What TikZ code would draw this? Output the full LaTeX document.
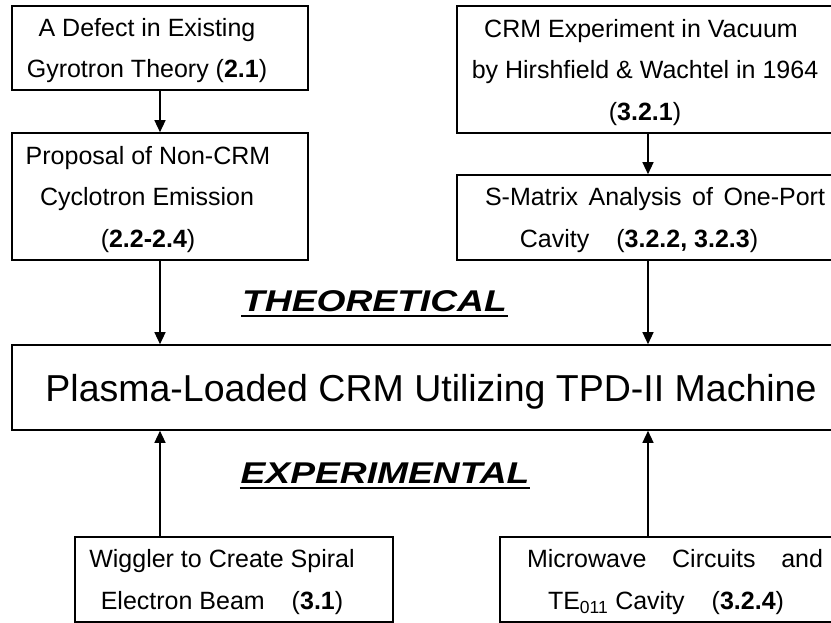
\documentclass[tikz,border=0pt]{standalone}
\usepackage{fontspec}
\setmainfont{Liberation Sans}
\usetikzlibrary{arrows.meta}
% empty box that pushes a centred line to the left
\newcommand{\nudge}[1]{\hbox to #1{}}

\begin{document}
\begin{tikzpicture}[x=1pt, y=-1pt, line width=1.6pt,
  box/.style={draw, rectangle, inner sep=0pt, align=center, text depth=-6pt, font=\fontsize{25}{41.5}\selectfont},
  arr/.style={line width=1.3pt, -{Triangle[width=11pt,length=12pt]}},
  heading/.style={inner sep=0pt, anchor=base, font=\fontsize{30}{36}\selectfont\bfseries\itshape}]
  \useasboundingbox (0,0) rectangle (831,623);
  \clip (0,0) rectangle (831,623);
  % theory, left column
  \node[box, minimum width=296pt, minimum height=84pt] (defect) at (160,48)
    {A Defect in Existing\nudge{26pt}\\Gyrotron Theory (\textbf{2.1})\nudge{26pt}};
  \node[box, minimum width=296pt, minimum height=127pt] (proposal) at (160,196.5)
    {Proposal of Non-CRM\nudge{24pt}\\Cyclotron Emission\nudge{26pt}\\(\textbf{2.2-2.4})\nudge{24pt}};
  % theory, right column (runs off the page)
  \node[box, minimum width=382pt, minimum height=127pt] (vacuum) at (648,69.5)
    {CRM Experiment in Vacuum\nudge{14pt}\\by Hirshfield \& Wachtel in 1964\nudge{6pt}\\(\textbf{3.2.1})\nudge{6pt}};
  \node[box, minimum width=382pt, minimum height=85pt] (smatrix) at (648,217.5)
    {\nudge{14pt}\makebox[340pt][s]{S-Matrix Analysis of One-Port}\\Cavity\hspace*{27pt}(\textbf{3.2.2, 3.2.3})\nudge{18pt}};
  % the machine
  \node[box, minimum width=838pt, minimum height=85pt, text depth=-4pt, font=\fontsize{37.5}{42}\selectfont] (main) at (431,387.5)
    {Plasma-Loaded CRM Utilizing TPD-II Machine};
  % experiment, bottom row
  \node[box, minimum width=318pt, minimum height=85pt] (wiggler) at (234,579.5)
    {Wiggler to Create Spiral\nudge{24pt}\\Electron Beam\hspace*{27pt}(\textbf{3.1})\nudge{24pt}};
  \node[box, minimum width=350pt, minimum height=85pt] (micro) at (675,579.5)
    {\makebox[296pt][s]{Microwave Circuits and}\\TE\textsubscript{011} Cavity\hspace*{27pt}(\textbf{3.2.4})\nudge{18pt}};
  % headings
  \node[heading] (theo) at (374.5,312) {\scalebox{1.24}[1]{THEORETICAL}};
  \node[heading] (expt) at (385,483) {\scalebox{1.24}[1]{EXPERIMENTAL}};
  \draw[line width=2pt] ([yshift=-3.5pt]theo.base west) -- ([yshift=-3.5pt]theo.base east);
  \draw[line width=2pt] ([yshift=-4.5pt]expt.base west) -- ([yshift=-4.5pt]expt.base east);
  % arrows
  \draw[arr] (defect) -- (proposal);
  \draw[arr] (proposal) -- (main.north -| proposal);
  \draw[arr] (vacuum) -- (smatrix);
  \draw[arr] (smatrix) -- (main.north -| smatrix);
  \draw[arr] (wiggler.north -| defect) -- (main.south -| defect);
  \draw[arr] (micro.north -| vacuum) -- (main.south -| vacuum);
\end{tikzpicture}
\end{document}
